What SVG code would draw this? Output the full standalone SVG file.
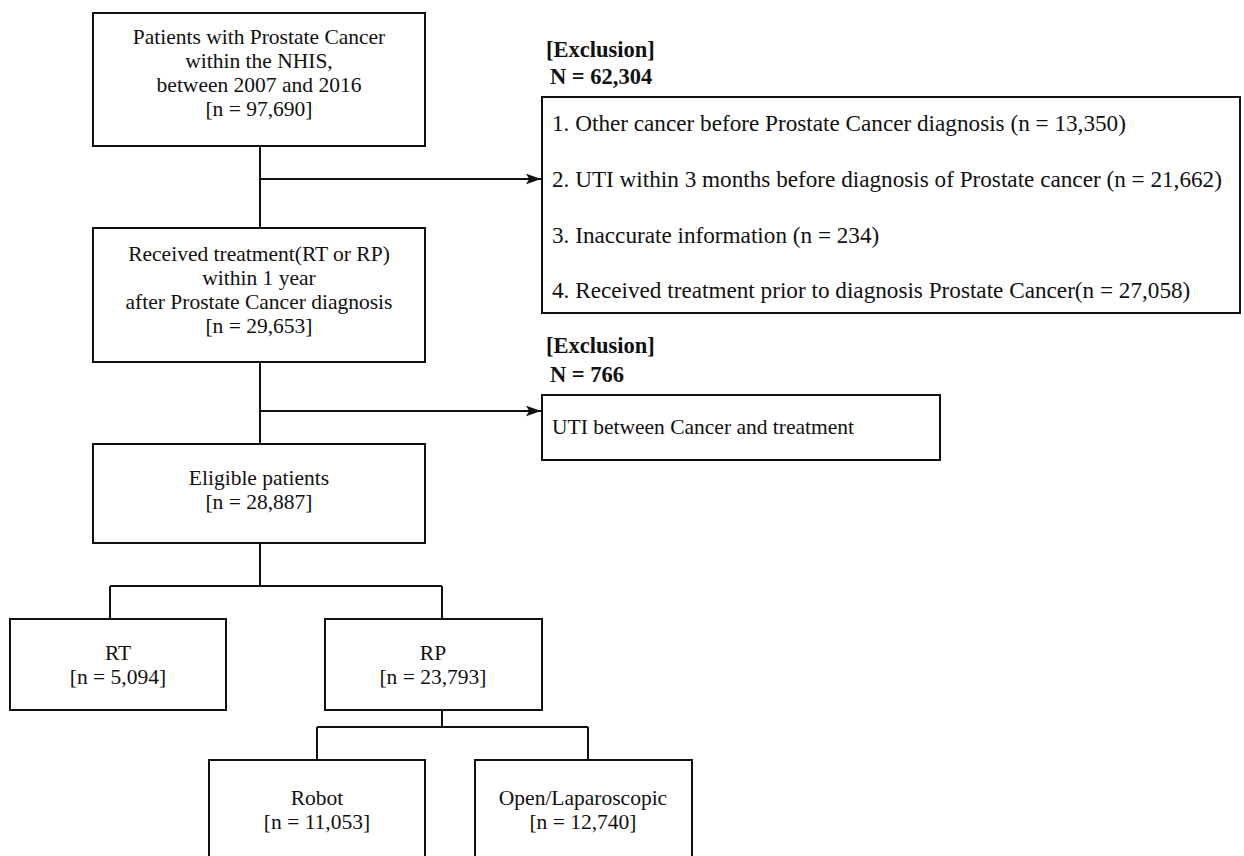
<svg xmlns="http://www.w3.org/2000/svg" width="1244" height="856" viewBox="0 0 1244 856">
<style>
.box{fill:#fff;stroke:#111;stroke-width:2}
.t{font-family:"Liberation Serif","Times New Roman",serif;font-size:21.5px;fill:#111}
.c{text-anchor:middle}
.b{font-weight:bold;font-size:22.5px}
.l{font-size:23.2px}
.ln{fill:none;stroke:#111;stroke-width:2}
</style>
<defs>
<marker id="ah2" viewBox="0 0 14 10" refX="14" refY="5" markerWidth="15" markerHeight="11" markerUnits="userSpaceOnUse" orient="auto">
<path d="M0,0 L14,5 L0,10 L3,5 Z" fill="#111"/>
</marker>
</defs>
<g id="connectors">
<path class="ln" d="M260,146 V228 M260,362 V444 M260,543 V586 M110,586 H442 M110,586 V619 M442,586 V619 M442,710 V727 M317,727 H588 M317,727 V760 M588,727 V760"/>
<path class="ln" d="M260,179 H541" marker-end="url(#ah2)"/>
<path class="ln" d="M260,411 H541" marker-end="url(#ah2)"/>
</g>
<g id="n1">
<rect class="box" x="93" y="13" width="332" height="133"/>
<text class="t c" x="259" y="44">Patients with Prostate Cancer</text>
<text class="t c" x="259" y="68">within the NHIS,</text>
<text class="t c" x="259" y="92">between 2007 and 2016</text>
<text class="t c" x="259" y="116">[n = 97,690]</text>
</g>
<g id="n2">
<rect class="box" x="93" y="228" width="332" height="134"/>
<text class="t c" x="259" y="261">Received treatment(RT or RP)</text>
<text class="t c" x="259" y="285">within 1 year</text>
<text class="t c" x="259" y="309">after Prostate Cancer diagnosis</text>
<text class="t c" x="259" y="333">[n = 29,653]</text>
</g>
<g id="n3">
<rect class="box" x="93" y="444" width="332" height="99"/>
<text class="t c" x="259" y="485">Eligible patients</text>
<text class="t c" x="259" y="509">[n = 28,887]</text>
</g>
<g id="ex1">
<text class="t b" x="546" y="57">[Exclusion]</text>
<text class="t b" x="550" y="84">N = 62,304</text>
<rect class="box" x="542" y="97" width="698" height="216"/>
<text class="t l" x="552" y="131">1. Other cancer before Prostate Cancer diagnosis (n = 13,350)</text>
<text class="t l" x="552" y="187">2. UTI within 3 months before diagnosis of Prostate cancer (n = 21,662)</text>
<text class="t l" x="552" y="243">3. Inaccurate information (n = 234)</text>
<text class="t l" x="552" y="298">4. Received treatment prior to diagnosis Prostate Cancer(n = 27,058)</text>
</g>
<g id="ex2">
<text class="t b" x="546" y="353">[Exclusion]</text>
<text class="t b" x="550" y="382">N = 766</text>
<rect class="box" x="542" y="395" width="398" height="65"/>
<text class="t" x="552" y="434">UTI between Cancer and treatment</text>
</g>
<g id="rt">
<rect class="box" x="10" y="619" width="216" height="91"/>
<text class="t c" x="118" y="660">RT</text>
<text class="t c" x="118" y="684">[n = 5,094]</text>
</g>
<g id="rp">
<rect class="box" x="325" y="619" width="217" height="91"/>
<text class="t c" x="433" y="660">RP</text>
<text class="t c" x="433" y="684">[n = 23,793]</text>
</g>
<g id="robot">
<rect class="box" x="209" y="760" width="216" height="110"/>
<text class="t c" x="317" y="805">Robot</text>
<text class="t c" x="317" y="829">[n = 11,053]</text>
</g>
<g id="open">
<rect class="box" x="475" y="760" width="217" height="110"/>
<text class="t c" x="583" y="805">Open/Laparoscopic</text>
<text class="t c" x="583" y="829">[n = 12,740]</text>
</g>
</svg>
